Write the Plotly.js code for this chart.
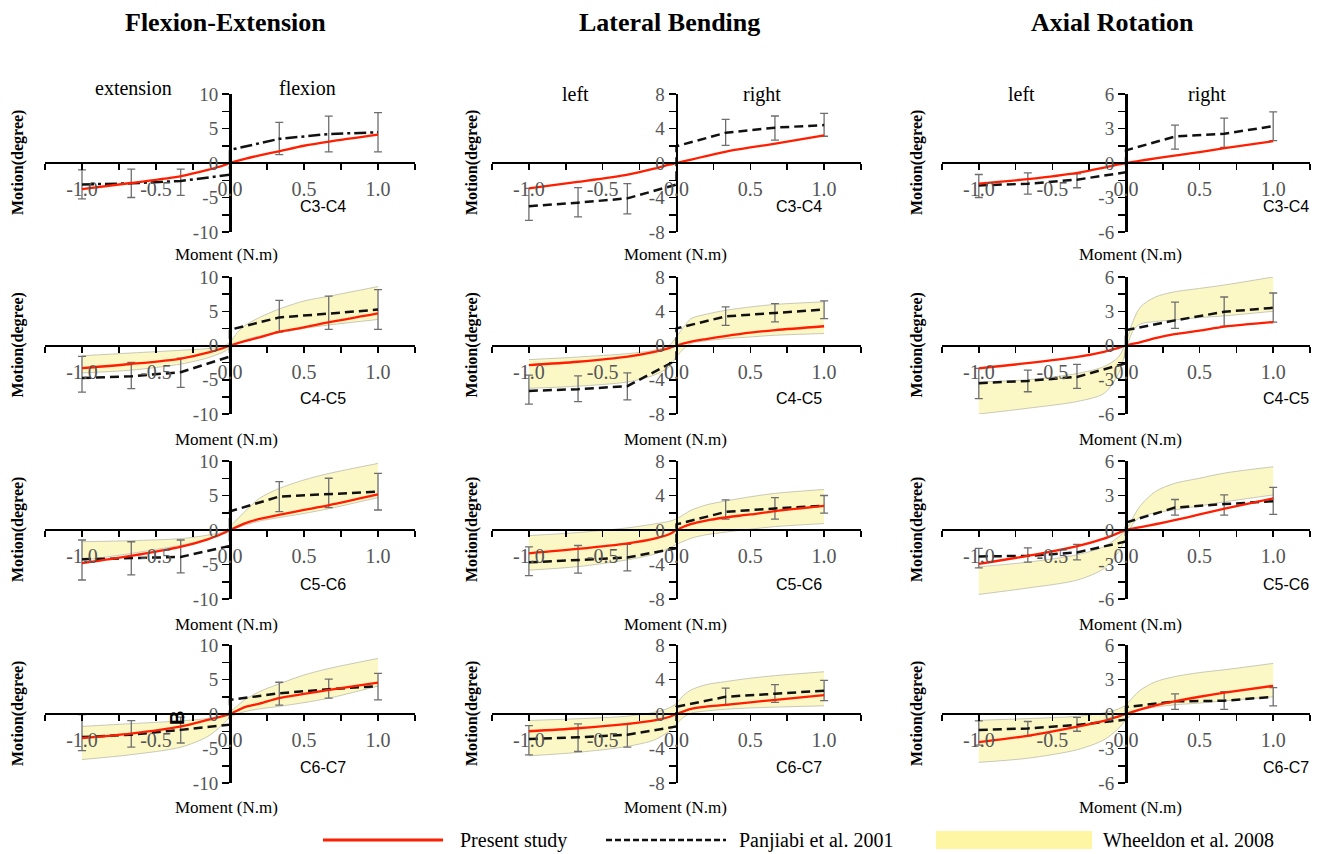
<!DOCTYPE html>
<html><head><meta charset="utf-8">
<script src="https://cdn.plot.ly/plotly-3.0.1.min.js"></script>
<style>body{margin:0;background:#fff}</style>
</head><body>
<div id="chart" style="width:1323px;height:854px"></div>
<script>
// ---------------- DATA ----------------
const motions = ['Flexion-Extension', 'Lateral Bending', 'Axial Rotation'];
const segments = ['C3-C4', 'C4-C5', 'C5-C6', 'C6-C7'];
const sideLabelsFE = ['extension', 'flexion'];
const sideLabelsLB = ['left', 'right'];
const sideLabelsAR = ['left', 'right'];
const legendLabels = ['Present study', 'Panjiabi et al. 2001', 'Wheeldon et al. 2008'];

const xTickVals = [-1.25, -1, -0.75, -0.5, -0.25, 0, 0.25, 0.5, 0.75, 1, 1.25];
const xTickText = ['', '-1.0', '', '-0.5', '', '0.0', '', '0.5', '', '1.0', ''];
const yTickValsFE = [-10, -7.5, -5, -2.5, 0, 2.5, 5, 7.5, 10];
const yTickTextFE = ['-10', '', '-5', '', '0', '', '5', '', '10'];
const yTickValsLB = [-8, -6, -4, -2, 0, 2, 4, 6, 8];
const yTickTextLB = ['-8', '', '-4', '', '0', '', '4', '', '8'];
const yTickValsAR = [-6, -4.5, -3, -1.5, 0, 1.5, 3, 4.5, 6];
const yTickTextAR = ['-6', '', '-3', '', '0', '', '3', '', '6'];

// Present study (moment, N.m)
const xPresent = [-1, -0.67, -0.33, -0.15, -0.05, 0, 0.1, 0.2, 0.33, 0.5, 0.67, 1];
const presentFE = [
  [-3.8, -2.9, -1.9, -1.0, -0.4, 0, 0.6, 1.1, 1.7, 2.5, 3.1, 4.1],
  [-3.3, -2.7, -1.9, -1.05, -0.4, 0, 0.65, 1.2, 2.0, 2.65, 3.4, 4.7],
  [-4.8, -3.75, -2.4, -1.35, -0.5, 0, 0.95, 1.6, 2.2, 2.9, 3.6, 5.15],
  [-3.5, -2.85, -1.8, -0.85, -0.3, 0, 1.0, 1.5, 2.3, 2.9, 3.5, 4.55]
];
const presentLB = [
  [-2.95, -2.2, -1.35, -0.65, -0.2, 0, 0.4, 0.8, 1.3, 1.8, 2.25, 3.2],
  [-2.3, -1.9, -1.3, -0.75, -0.3, 0, 0.45, 0.75, 1.1, 1.5, 1.8, 2.25],
  [-2.7, -2.2, -1.55, -1.0, -0.5, 0, 0.7, 1.1, 1.45, 1.8, 2.2, 2.8],
  [-2.0, -1.65, -1.15, -0.75, -0.35, 0, 0.6, 0.85, 1.05, 1.35, 1.65, 2.2]
];
const presentAR = [
  [-1.8, -1.4, -0.85, -0.4, -0.12, 0, 0.2, 0.4, 0.65, 0.95, 1.3, 1.9],
  [-2.0, -1.55, -1.0, -0.55, -0.2, 0, 0.3, 0.65, 1.0, 1.3, 1.65, 2.05],
  [-2.95, -2.25, -1.4, -0.75, -0.25, 0, 0.25, 0.5, 0.85, 1.35, 1.85, 2.75],
  [-2.45, -1.9, -1.1, -0.6, -0.2, 0, 0.4, 0.75, 1.1, 1.5, 1.85, 2.45]
];

// Panjiabi et al. 2001 (mean, error-bar top/bottom at six moments; values just left/right of zero)
const xPanjiabi = [-1, -0.667, -0.333, 0.333, 0.667, 1];
const panjiabiFE = [
  [-3.1, -2.95, -2.6, 3.5, 4.2, 4.45],
  [-4.75, -4.5, -3.9, 4.1, 4.65, 5.25],
  [-4.25, -4.1, -3.9, 4.85, 5.15, 5.55],
  [-3.35, -3.0, -2.3, 3.0, 3.6, 4.05]
];
const panjiabiFEZero = [[-1.7, 1.9], [-1.6, 2.3], [-2.3, 2.7], [-1.55, 2.05]];
const panjiabiFETop = [
  [-1.0, -0.9, -0.9, 5.9, 6.8, 7.3],
  [-1.6, -2.45, -1.85, 6.6, 7.2, 8.15],
  [-1.45, -1.7, -1.45, 7.0, 7.5, 8.2],
  [-0.1, -0.95, -0.45, 4.6, 5.05, 5.9]
];
const panjiabiFEBottom = [
  [-5.2, -5.0, -4.7, 1.2, 1.6, 1.6],
  [-6.8, -6.3, -6.1, 2.0, 2.35, 2.35],
  [-7.25, -6.5, -6.2, 2.65, 3.25, 2.9],
  [-5.3, -4.8, -4.2, 1.3, 2.3, 2.05]
];
const panjiabiLB = [
  [-5.0, -4.6, -4.1, 3.5, 4.1, 4.4],
  [-5.3, -5.1, -4.75, 3.4, 3.8, 4.2],
  [-3.75, -3.5, -3.2, 2.1, 2.5, 2.8],
  [-2.9, -2.7, -2.4, 2.0, 2.35, 2.7]
];
const panjiabiLBZero = [[-2.5, 1.95], [-1.7, 2.0], [-2.1, 0.65], [-1.45, 0.85]];
const panjiabiLBTop = [
  [-2.95, -2.85, -2.4, 5.05, 5.45, 5.75],
  [-3.45, -3.55, -3.2, 4.5, 4.9, 5.2],
  [-1.95, -1.8, -1.65, 3.5, 3.75, 4.0],
  [-1.35, -1.15, -1.15, 3.0, 3.4, 3.9]
];
const panjiabiLBBottom = [
  [-6.65, -6.25, -5.9, 2.05, 2.65, 3.1],
  [-6.85, -6.55, -6.35, 2.35, 2.75, 3.15],
  [-5.3, -5.0, -4.75, 1.25, 1.25, 1.95],
  [-4.75, -4.35, -3.85, 1.05, 1.35, 1.55]
];
const panjiabiAR = [
  [-1.95, -1.8, -1.45, 2.3, 2.55, 3.2],
  [-3.3, -3.1, -2.75, 2.2, 2.95, 3.3],
  [-2.3, -2.25, -1.95, 1.95, 2.25, 2.5],
  [-1.4, -1.25, -0.95, 1.1, 1.15, 1.5]
];
const panjiabiARZero = [[-0.8, 1.1], [-1.55, 1.35], [-1.0, 0.65], [-0.5, 0.6]];
const panjiabiARTop = [
  [-1.0, -0.85, -0.95, 3.3, 3.9, 4.45],
  [-2.0, -2.15, -1.65, 3.8, 4.25, 4.6],
  [-1.6, -1.55, -1.25, 2.65, 3.05, 3.7],
  [-0.6, -0.65, -0.3, 1.75, 1.95, 2.3]
];
const panjiabiARBottom = [
  [-3.0, -2.7, -2.15, 1.2, 1.35, 1.95],
  [-4.65, -4.05, -3.75, 1.5, 1.7, 2.05],
  [-3.3, -2.8, -2.6, 1.3, 1.3, 1.35],
  [-2.7, -1.9, -1.5, 0.4, 0.4, 0.7]
];

// Wheeldon et al. 2008 corridor (no C3-C4 data)
const xWheeldon = [-1, -0.67, -0.33, -0.15, -0.05, 0, 0.05, 0.1, 0.2, 0.33, 0.5, 0.67, 1];
const wheeldonFEUpper = [null,
  [-1.5, -1.1, -0.7, -0.45, -0.15, 0.5, 1.9, 2.9, 4.1, 5.3, 6.5, 7.2, 8.6],
  [-1.7, -1.55, -1.25, -0.75, -0.3, 0.5, 1.6, 2.65, 4.6, 6.0, 7.25, 8.2, 9.65],
  [-1.8, -1.4, -1.0, -0.65, -0.3, 0.35, 1.2, 2.05, 3.25, 4.35, 5.65, 6.6, 8.05]
];
const wheeldonFELower = [null,
  [-4.0, -3.6, -2.7, -1.8, -1.0, -0.4, 0.2, 0.8, 1.4, 1.85, 2.5, 3.0, 3.8],
  [-4.4, -3.4, -2.2, -1.3, -0.55, -0.15, 0.35, 0.7, 1.3, 1.8, 2.4, 3.1, 4.7],
  [-6.6, -5.9, -4.8, -3.25, -1.55, -0.45, 0.0, 0.35, 0.75, 1.1, 1.65, 2.3, 4.05]
];
const wheeldonLBUpper = [null,
  [-1.65, -1.35, -0.95, -0.55, 0.0, 1.0, 2.2, 3.15, 3.65, 4.1, 4.5, 4.8, 5.1],
  [-0.65, -0.3, 0.25, 0.7, 1.0, 1.3, 1.8, 2.3, 2.9, 3.35, 3.85, 4.25, 4.7],
  [-0.75, -0.55, -0.25, 0.2, 0.7, 1.25, 2.2, 2.8, 3.4, 3.75, 4.15, 4.45, 4.9]
];
const wheeldonLBLower = [null,
  [-5.0, -4.75, -4.25, -3.45, -2.5, -1.3, -0.35, 0.25, 0.55, 0.8, 1.0, 1.2, 1.4],
  [-4.65, -4.25, -3.45, -2.8, -2.1, -1.65, -1.3, -0.95, -0.55, -0.25, 0.1, 0.4, 0.75],
  [-4.85, -4.45, -3.75, -3.0, -2.0, -1.15, -0.35, 0.1, 0.35, 0.55, 0.7, 0.8, 0.95]
];
const wheeldonARUpper = [null,
  [-3.2, -3.0, -2.45, -1.85, -1.0, 0.3, 2.2, 3.4, 4.25, 4.7, 5.0, 5.3, 6.0],
  [-3.2, -2.8, -2.15, -1.45, -0.6, 0.0, 1.15, 2.15, 3.35, 4.05, 4.5, 4.95, 5.5],
  [-0.55, -0.4, -0.2, 0.1, 0.45, 0.8, 1.5, 2.1, 2.8, 3.25, 3.6, 3.85, 4.4]
];
const wheeldonARLower = [null,
  [-6.0, -5.5, -4.9, -4.2, -2.45, -0.4, 1.35, 1.9, 2.1, 2.25, 2.45, 2.6, 3.0],
  [-5.6, -5.05, -4.35, -3.35, -1.9, -0.6, 0.6, 1.15, 1.5, 1.75, 2.1, 2.45, 3.05],
  [-4.2, -3.85, -3.1, -2.25, -1.25, -0.5, 0.05, 0.35, 0.6, 0.8, 0.95, 1.15, 1.5]
];

// ---------------- LAYOUT HELPERS ----------------
const W = 1323, H = 854;
const colPx = [[45, 415], [492, 861], [942, 1310]];
const rowPx = [[94, 232], [277, 414], [461, 599], [645, 783]];
const fx = p => p / W;
const fy = p => 1 - p / H;
const SERIF = 'Liberation Serif, Times New Roman, serif';
const SANS = 'Liberation Sans, Arial, sans-serif';

const cols = [
  {lim: 10, tv: yTickValsFE, tt: yTickTextFE, present: presentFE, pj: panjiabiFE, pjZ: panjiabiFEZero, pjT: panjiabiFETop, pjB: panjiabiFEBottom, wU: wheeldonFEUpper, wL: wheeldonFELower},
  {lim: 8, tv: yTickValsLB, tt: yTickTextLB, present: presentLB, pj: panjiabiLB, pjZ: panjiabiLBZero, pjT: panjiabiLBTop, pjB: panjiabiLBBottom, wU: wheeldonLBUpper, wL: wheeldonLBLower},
  {lim: 6, tv: yTickValsAR, tt: yTickTextAR, present: presentAR, pj: panjiabiAR, pjZ: panjiabiARZero, pjT: panjiabiARTop, pjB: panjiabiARBottom, wU: wheeldonARUpper, wL: wheeldonARLower}
];

const traces = [];
const layout = {
  width: W, height: H, margin: {l: 0, r: 0, t: 0, b: 0},
  paper_bgcolor: '#fff', plot_bgcolor: 'rgba(0,0,0,0)',
  showlegend: false, annotations: [], shapes: []
};
function ann(text, x, y, size, extra) {
  layout.annotations.push(Object.assign({
    text: text, xref: 'paper', yref: 'paper', x: fx(x), y: fy(y),
    xanchor: 'center', yanchor: 'middle', showarrow: false,
    font: {family: SERIF, size: size, color: '#000'}
  }, extra || {}));
}

const lineX = [xPanjiabi[0], xPanjiabi[1], xPanjiabi[2], 0, 0, xPanjiabi[3], xPanjiabi[4], xPanjiabi[5]];

for (let r = 0; r < 4; r++) {
  for (let c = 0; c < 3; c++) {
    const idx = r * 3 + c + 1;
    const sfx = idx === 1 ? '' : String(idx);
    const xa = 'x' + sfx, ya = 'y' + sfx;
    const C = cols[c];
    const cx = (colPx[c][0] + colPx[c][1]) / 2;
    const cy = (rowPx[r][0] + rowPx[r][1]) / 2;

    layout['xaxis' + sfx] = {
      domain: [fx(colPx[c][0]), fx(colPx[c][1])], anchor: 'free', position: fy(cy),
      range: [-1.25, 1.25], tickmode: 'array', tickvals: xTickVals, ticktext: xTickText,
      ticks: 'outside', ticklen: 6, tickwidth: 1.5, tickcolor: '#000',
      showline: true, linecolor: '#000', linewidth: 2, showgrid: false, zeroline: false,
      ticklabelstandoff: 2,
      tickfont: {family: SERIF, size: 20, color: '#555'}, fixedrange: true
    };
    layout['yaxis' + sfx] = {
      domain: [fy(rowPx[r][1]), fy(rowPx[r][0])], anchor: 'free', position: fx(cx),
      range: [-C.lim, C.lim], tickmode: 'array', tickvals: C.tv, ticktext: C.tt,
      ticks: 'outside', ticklen: 7, tickwidth: 1.5, tickcolor: '#000',
      showline: true, linecolor: '#000', linewidth: 2.5, showgrid: false, zeroline: false,
      tickfont: {family: SERIF, size: 19, color: '#555'}, fixedrange: true
    };

    // Wheeldon corridor
    if (C.wU[r]) {
      traces.push({x: xWheeldon, y: C.wL[r], xaxis: xa, yaxis: ya, mode: 'lines',
        line: {color: '#c9c9b5', width: 1, shape: 'spline', smoothing: 0.8}, hoverinfo: 'skip'});
      traces.push({x: xWheeldon, y: C.wU[r], xaxis: xa, yaxis: ya, mode: 'lines', fill: 'tonexty',
        fillcolor: '#fcf8c6', line: {color: '#c9c9b5', width: 1, shape: 'spline', smoothing: 0.8}, hoverinfo: 'skip'});
    }
    // Panjiabi error bars
    const y = C.pj[r];
    traces.push({x: xPanjiabi, y: y, xaxis: xa, yaxis: ya, mode: 'markers',
      marker: {size: 1, color: 'rgba(0,0,0,0)'},
      error_y: {type: 'data', symmetric: false,
        array: C.pjT[r].map((t, i) => t - y[i]),
        arrayminus: C.pjB[r].map((b, i) => y[i] - b),
        color: '#6e6e6e', thickness: 1.3, width: 4}, hoverinfo: 'skip'});
    // Panjiabi line
    const ly = [y[0], y[1], y[2], C.pjZ[r][0], C.pjZ[r][1], y[3], y[4], y[5]];
    traces.push({x: lineX, y: ly, xaxis: xa, yaxis: ya, mode: 'lines',
      line: {color: '#111', width: 2.5, dash: (r === 0 && c === 0) ? '12px,4px,3px,4px' : '9px,5px'}, hoverinfo: 'skip'});
    // Present study
    traces.push({x: xPresent, y: C.present[r], xaxis: xa, yaxis: ya, mode: 'lines',
      line: {color: '#ff1e00', width: 2.3, shape: 'spline', smoothing: 0.8}, hoverinfo: 'skip'});
  }
}

// ---------------- TEXT ----------------
const titleX = [225, 669, 1112];
motions.forEach((m, i) => ann('<b>' + m + '</b>', titleX[i], 22, 26));
ann(sideLabelsFE[0], 133, 88, 20);
ann(sideLabelsFE[1], 307, 88, 20);
ann(sideLabelsLB[0], 575, 94, 20);
ann(sideLabelsLB[1], 762, 94, 20);
ann(sideLabelsAR[0], 1021, 94, 20);
ann(sideLabelsAR[1], 1207, 94, 20);

const motionX = [18, 472, 917];
const momentX = [226, 675, 1130];
const momentY = [254, 439, 624, 807];
const segX = [323, 799, 1286];
const segY = [207, 398, 584, 767];
for (let r = 0; r < 4; r++) {
  const cy = (rowPx[r][0] + rowPx[r][1]) / 2;
  for (let c = 0; c < 3; c++) {
    ann('<b>Motion(degree)</b>', motionX[c], cy, 16, {textangle: -90});
    ann('Moment (N.m)', momentX[c], momentY[r], 17);
    ann(segments[r], segX[c], segY[r], 16, {font: {family: SANS, size: 16, color: '#000'}});
  }
}
ann('<b>B</b>', 177, 718, 20, {textangle: -90, font: {family: SANS, size: 20, color: '#000'}});

// ---------------- LEGEND ----------------
layout.shapes.push({type: 'line', xref: 'paper', yref: 'paper', x0: fx(323), x1: fx(443), y0: fy(840), y1: fy(840),
  line: {color: '#ff1e00', width: 3}});
layout.shapes.push({type: 'line', xref: 'paper', yref: 'paper', x0: fx(606), x1: fx(726), y0: fy(840), y1: fy(840),
  line: {color: '#111', width: 2.5, dash: '6px,3px'}});
layout.shapes.push({type: 'rect', xref: 'paper', yref: 'paper', x0: fx(936), x1: fx(1092), y0: fy(849), y1: fy(831),
  fillcolor: '#fff6a3', line: {width: 0}});
ann(legendLabels[0], 458, 840, 20, {xanchor: 'left'});
ann(legendLabels[1], 737, 840, 20, {xanchor: 'left'});
ann(legendLabels[2], 1101, 840, 20, {xanchor: 'left'});

Plotly.newPlot('chart', traces, layout, {displayModeBar: false, staticPlot: true});
</script>
</body></html>
